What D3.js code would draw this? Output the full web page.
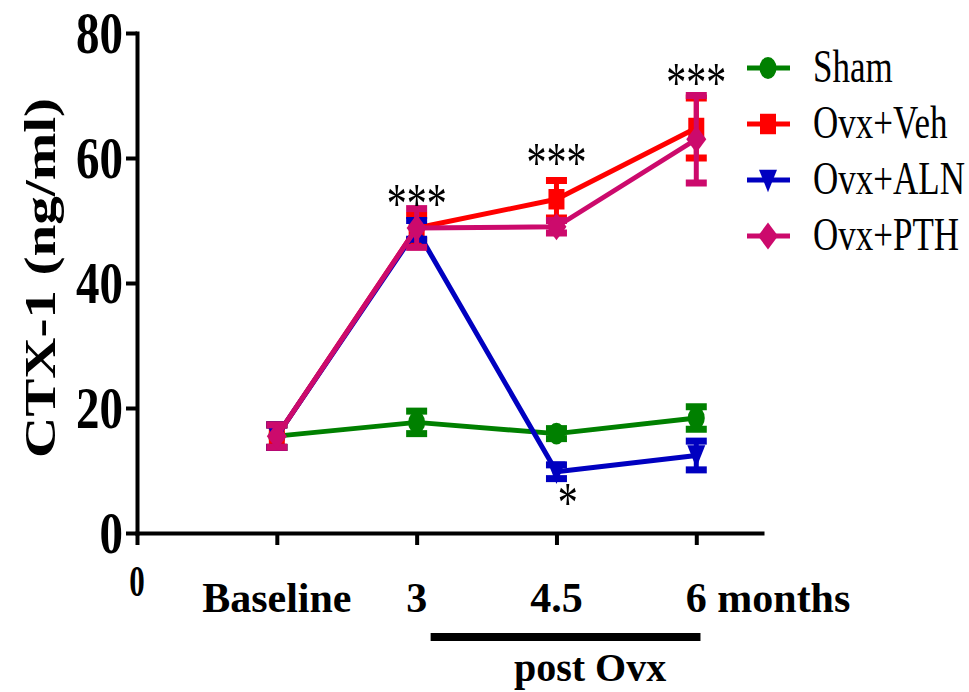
<!DOCTYPE html>
<html><head><meta charset="utf-8">
<script src="https://cdn.jsdelivr.net/npm/d3@7"></script>
<style>body{margin:0;background:#fff}svg{display:block}</style>
</head><body>
<svg id="chart" width="969" height="692"></svg>
<script>
// ---- data ----
const categories = ["Baseline", "3", "4.5", "6 months"];
const categoryX = [1, 2, 3, 4];
const yTicks = [0, 20, 40, 60, 80];
const seriesNames = ["Sham", "Ovx+Veh", "Ovx+ALN", "Ovx+PTH"];
const shamMean = [15.5, 17.7, 15.9, 18.4];
const shamErr  = [1.8, 1.8, 0.8, 1.8];
const vehMean  = [15.5, 48.8, 53.4, 64.8];
const vehErr   = [1.8, 2.0, 3.0, 4.8];
const alnMean  = [15.5, 48.5, 9.8, 12.4];
const alnErr   = [1.8, 1.5, 1.1, 2.3];
const pthMean  = [15.5, 48.8, 49.0, 63.0];
const pthErr   = [1.8, 3.1, 1.0, 7.0];
const seriesColors = ["#008000", "#ff0000", "#0000c0", "#cc0a6c"];
const seriesMarkers = ["circle", "square", "triangleDown", "diamond"];
const annotationText = ["***", "***", "***", "*"];
const annotationX = [2, 3, 4, 3.08];
const annotationY = [49.6, 56.2, 69.0, 1.8];
const periodLabel = "post Ovx";
const periodStart = 2.1, periodEnd = 4.03, periodLabelX = 3.24;
const yTitle = "CTX-1 (ng/ml)";

const series = seriesNames.map((name, i) => ({
  name,
  color: seriesColors[i],
  marker: seriesMarkers[i],
  mean: [shamMean, vehMean, alnMean, pthMean][i],
  err: [shamErr, vehErr, alnErr, pthErr][i]
}));

// ---- layout ----
const svg = d3.select("#chart");
const serif = "'Liberation Serif','Times New Roman',Times,serif";
const x = d3.scaleLinear().domain([0, 4.47]).range([137, 762]);
const y = d3.scaleLinear().domain([0, 80]).range([533, 33]);

// custom marker shapes
const markerTypes = {
  circle: { draw(ctx) { const r = 8.5; ctx.moveTo(r, 0); ctx.arc(0, 0, r, 0, 2 * Math.PI); } },
  square: { draw(ctx) { ctx.rect(-8, -8, 16, 16); } },
  triangleDown: { draw(ctx) { ctx.moveTo(-9, -8); ctx.lineTo(9, -8); ctx.lineTo(0, 9.5); ctx.closePath(); } },
  diamond: { draw(ctx) { ctx.moveTo(0, -10.5); ctx.lineTo(10, 0); ctx.lineTo(0, 10.5); ctx.lineTo(-10, 0); ctx.closePath(); } }
};
const markerPath = t => d3.symbol().type(markerTypes[t])();
const markerScaleY = 1.28;

// ---- axes ----
const axisW = 4;
const yAxis = svg.append("g").attr("transform", `translate(${x(0)},0)`)
  .call(d3.axisLeft(y).tickValues(yTicks).tickSize(11).tickSizeOuter(0).tickFormat(""));
const xAxis = svg.append("g").attr("transform", `translate(0,${y(0)})`)
  .call(d3.axisBottom(x).tickValues([0].concat(categoryX)).tickSize(12).tickSizeOuter(0).tickFormat(""));
[yAxis, xAxis].forEach(g => {
  g.selectAll("path,line").attr("stroke", "#000").attr("stroke-width", axisW);
  g.select(".domain").attr("stroke-linecap", "square");
});

function stretchedText(tx, ty, txt, opts) {
  return svg.append("text")
    .attr("transform", `translate(${tx},${ty}) ${opts.rotate ? "rotate(" + opts.rotate + ")" : ""} scale(${opts.sx || 1},${opts.sy || 1})`)
    .attr("font-family", serif)
    .attr("font-size", opts.size)
    .attr("font-weight", opts.weight || "normal")
    .attr("text-anchor", opts.anchor || "start")
    .attr("fill", "#000")
    .text(txt);
}

// y tick labels
yTicks.forEach(v => {
  stretchedText(x(0) - 14, y(v) + 20, String(v), { size: 47, weight: "bold", anchor: "end", sy: 1.26 });
});
// x origin label
stretchedText(x(0), 596, "0", { size: 31, weight: "bold", anchor: "middle", sy: 1.4 });
// x category labels
categories.forEach((c, i) => {
  if (i === categories.length - 1) {
    stretchedText(x(categoryX[i]) - 10.5, 612, c, { size: 42, weight: "bold", anchor: "start" });
  } else {
    stretchedText(x(categoryX[i]), 612, c, { size: 42, weight: "bold", anchor: "middle" });
  }
});
// y title
stretchedText(55, 278, yTitle, { size: 45, weight: "bold", anchor: "middle", rotate: -90, sx: 1.27 });

// period bar
svg.append("rect").attr("x", x(periodStart)).attr("y", 633)
  .attr("width", x(periodEnd) - x(periodStart)).attr("height", 8).attr("fill", "#000");
stretchedText(x(periodLabelX), 681, periodLabel, { size: 40, weight: "bold", anchor: "middle" });

// ---- series ----
const line = d3.line().x((d, i) => x(categoryX[i])).y(d => y(d));
series.forEach(s => {
  const g = svg.append("g");
  g.append("path").attr("d", line(s.mean)).attr("fill", "none")
    .attr("stroke", s.color).attr("stroke-width", 5).attr("stroke-linejoin", "round");
  s.mean.forEach((m, i) => {
    const cx = x(categoryX[i]);
    const top = y(m + s.err[i]), bot = y(m - s.err[i]);
    g.append("line").attr("x1", cx).attr("x2", cx).attr("y1", top).attr("y2", bot)
      .attr("stroke", s.color).attr("stroke-width", 5);
    [top, bot].forEach(yy => g.append("rect").attr("x", cx - 10.5).attr("y", yy - 3.5)
      .attr("width", 21).attr("height", 7).attr("fill", s.color));
    g.append("path").attr("d", markerPath(s.marker))
      .attr("transform", `translate(${cx},${y(m)}) scale(1,${markerScaleY})`)
      .attr("fill", s.color);
  });
});

// annotations
annotationText.forEach((t, i) => {
  stretchedText(x(annotationX[i]), y(annotationY[i]), t, { size: 40, anchor: "middle", sy: 1.45 });
});

// ---- legend ----
series.forEach((s, i) => {
  const ly = 68 + i * 56;
  svg.append("line").attr("x1", 747).attr("x2", 790).attr("y1", ly).attr("y2", ly)
    .attr("stroke", s.color).attr("stroke-width", 5);
  svg.append("path").attr("d", markerPath(s.marker))
    .attr("transform", `translate(768,${ly}) scale(1,${markerScaleY})`).attr("fill", s.color);
  stretchedText(813, ly + 14, s.name, { size: 35, sy: 1.33 });
});
</script>
</body></html>
